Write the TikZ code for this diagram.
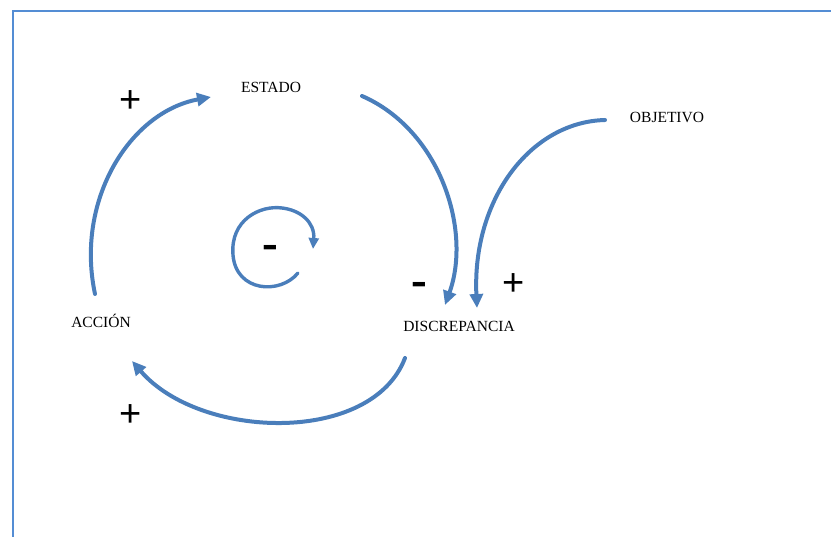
\documentclass[tikz,border=0pt]{standalone}
\usepackage{fontspec}
\usepackage{graphicx}
\setmainfont{Liberation Serif}
\newfontfamily\symfont{Liberation Sans}
\usetikzlibrary{arrows.meta}
\definecolor{loopblue}{RGB}{74,126,187}
\definecolor{framecol}{RGB}{84,141,212}
\tikzset{
  lbl/.style={inner sep=0pt, font=\fontsize{15.5}{17}\selectfont},
  plus/.style={inner sep=0pt, font=\symfont\fontsize{38}{38}\selectfont},
  minus/.style={inner sep=0pt, font=\symfont\bfseries\fontsize{26}{26}\selectfont},
  flow/.style={draw=loopblue, line width=4pt, line cap=round, -{Triangle[length=14pt,width=13pt]}}
}
\begin{document}
\begin{tikzpicture}[x=1pt,y=-1pt]
\useasboundingbox (0,0) rectangle (831,537);
\draw[framecol, line width=2pt] (13,537) -- (13,11) -- (831,11);
% labels
\node[lbl] (estado) at (271,87) {ESTADO};
\node[lbl] (objetivo) at (667,117) {OBJETIVO};
\node[lbl] (discrepancia) at (459,326) {DISCREPANCIA};
\node[lbl] (accion) at (101,321) {ACCIÓN};
% signs
\node[plus] (p1) at (131,102) {+};
\node[plus] (p2) at (131,416) {+};
\node[plus] (p3) at (514,285) {+};
\node[minus] (m1) at (419,289) {\scalebox{0.95}[1.7]{–}};
\node[minus] (m2) at (270,252) {\scalebox{0.95}[1.7]{–}};
% connector end points
\coordinate (a1) at (95,294);
\coordinate (a2) at (211,97);
\coordinate (e1) at (362,96);
\coordinate (e2) at (445,305);
\coordinate (d1) at (405,358);
\coordinate (d2) at (132,361);
\coordinate (o1) at (605,120);
\coordinate (o2) at (477,308);
% loops
\draw[flow] (a1) .. controls (75,200) and (130,112) .. (a2);
\draw[flow] (e1) .. controls (440,130) and (472,230) .. (e2);
\draw[flow] (d1) .. controls (372,445) and (200,440) .. (d2);
\draw[flow] (o1) .. controls (530,122) and (472,200) .. (o2);
% small loop
\draw[flow, line width=3.4pt, -{Triangle[length=11pt,width=10pt]}] (298,273)
  .. controls (280,295) and (236,292) .. (233,255)
  .. controls (230,220) and (260,205) .. (282,208)
  .. controls (300,210) and (315,222) .. (313,249);
\end{tikzpicture}
\end{document}
